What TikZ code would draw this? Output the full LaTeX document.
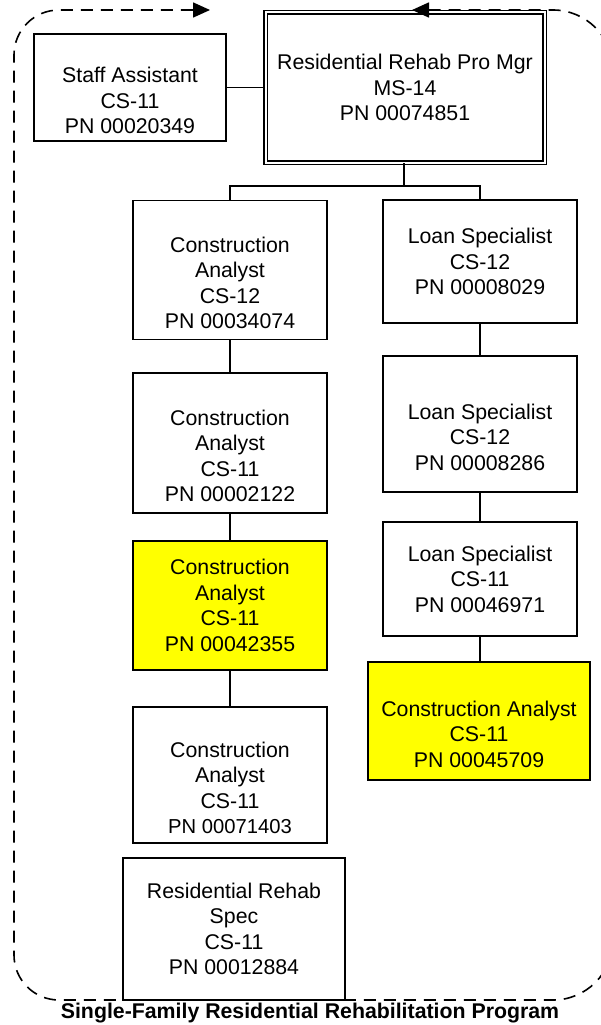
\documentclass[tikz,border=0pt]{standalone}
\usepackage{fontspec}
\setmainfont{Liberation Sans}
\usetikzlibrary{arrows.meta}
\definecolor{hilite}{RGB}{255,255,0}
% a leading strut that drops the text block by half a line
\newcommand{\gap}{\rule{0pt}{16pt}\\}
\begin{document}
\begin{tikzpicture}[x=1pt,y=-1pt,
  post/.style={draw=black, fill=white, line width=1.7pt, align=center,
    inner sep=0pt, font=\fontsize{21.3}{25.5}\selectfont},
  vacant/.style={post, fill=hilite},
  chief/.style={post, double, double distance=2pt, line width=1.5pt},
  link/.style={line width=1.7pt},
  frame/.style={line width=1.6pt, dash pattern=on 12pt off 8pt,
    {Triangle[length=17pt,width=15pt]}-{Triangle[length=17pt,width=15pt]}}]
\useasboundingbox (0,0) rectangle (601,1025);

% top level
\node[chief, minimum width=279pt, minimum height=150pt] (mgr) at (405,87.5)
  {Residential Rehab Pro Mgr\\MS-14\\PN 00074851};
\node[post, minimum width=192pt, minimum height=107pt] (staff) at (130,87.5)
  {\gap Staff Assistant\\CS-11\\PN 00020349};

% left column
\node[post, minimum width=194pt, minimum height=139pt] (l1) at (230,270)
  {\gap Construction\\Analyst\\CS-12\\PN 00034074};
\node[post, minimum width=194pt, minimum height=140pt] (l2) at (230,443)
  {\gap Construction\\Analyst\\CS-11\\PN 00002122};
\node[vacant, minimum width=194pt, minimum height=129pt] (l3) at (230,605.5)
  {Construction\\Analyst\\CS-11\\PN 00042355};
\node[post, minimum width=194pt, minimum height=136pt] (l4) at (230,775)
  {\gap Construction\\Analyst\\CS-11\\{\fontsize{20.2}{25.5}\selectfont PN 00071403}};
\node[post, minimum width=222pt, minimum height=142pt] (l5) at (234,929)
  {Residential Rehab\\Spec\\CS-11\\PN 00012884};

% right column
\node[post, minimum width=194pt, minimum height=123pt] (r1) at (480,261.5)
  {Loan Specialist\\CS-12\\PN 00008029};
\node[post, minimum width=194pt, minimum height=136pt] (r2) at (480,424)
  {\gap Loan Specialist\\CS-12\\PN 00008286};
\node[post, minimum width=194pt, minimum height=114pt] (r3) at (480,579)
  {Loan Specialist\\CS-11\\PN 00046971};
\node[vacant, minimum width=222pt, minimum height=118pt] (r4) at (479,721)
  {\gap Construction Analyst\\CS-11\\PN 00045709};

% reporting lines
\coordinate (bus) at (404,186);
\draw[link] (staff.east) -- (staff.east -| mgr.west);
\draw[link] (mgr.south -| bus) -- (bus);
\draw[link] (l1.north) |- (bus) -| (r1.north);
\draw[link] (l1.south) -- (l2.north);
\draw[link] (l2.south) -- (l3.north);
\draw[link] (l3.south) -- (l4.north);
\draw[link] (r1.south) -- (r2.north);
\draw[link] (r2.south) -- (r3.north);
\draw[link] (r3.south) -- (r3.south |- r4.north);

% program boundary with the two arrows pointing at the manager;
% its right side runs just past the page edge
\coordinate (fa) at (412,10);
\coordinate (fb) at (613,10);
\coordinate (fc) at (613,1000);
\coordinate (fd) at (14,1000);
\coordinate (fe) at (14,10);
\coordinate (ff) at (210,10);
\begin{scope}
  \clip (0,0) rectangle (601,1025);
  \draw[frame] (fa) [rounded corners=60pt] -- (fb) -- (fc)
    [rounded corners=45pt] -- (fd) -- (fe) -- (ff);
\end{scope}

\node[font=\bfseries\fontsize{21.3}{25}\selectfont] (title) at (310,1013)
  {Single-Family Residential Rehabilitation Program};
\end{tikzpicture}
\end{document}
